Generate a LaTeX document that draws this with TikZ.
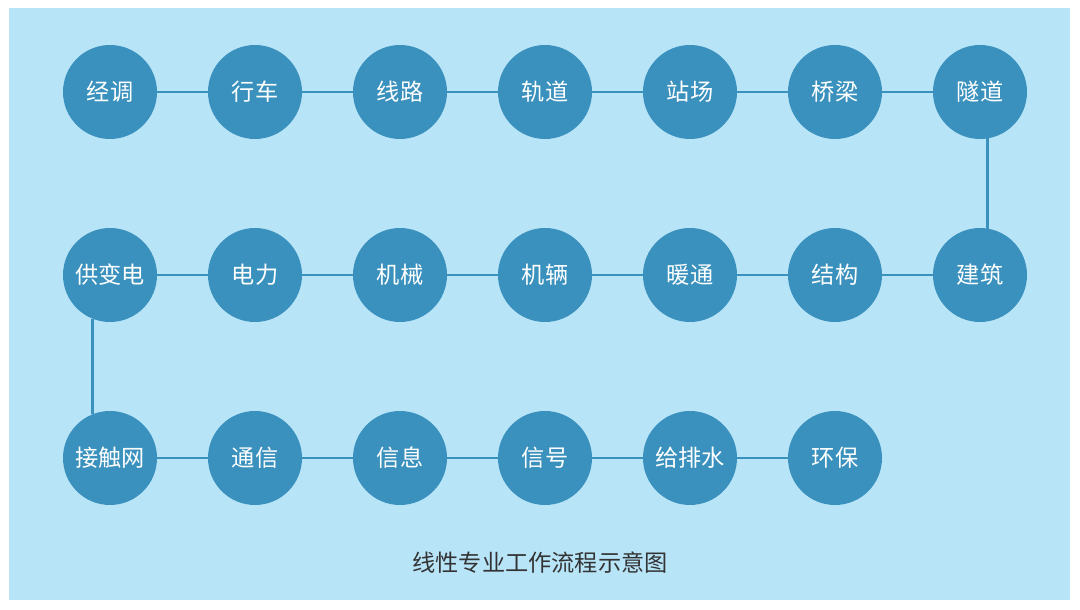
\documentclass[tikz,border=0pt]{standalone}
\usepackage{fontspec}
\setmainfont{Noto Sans CJK SC}
\usetikzlibrary{positioning}
\definecolor{bgblue}{RGB}{184,228,248}
\definecolor{nodeblue}{RGB}{58,145,189}
\definecolor{titlegray}{RGB}{51,51,51}
\tikzset{
  stage/.style={circle, fill=nodeblue, text=white, minimum size=2.35cm, inner sep=0pt, outer sep=0pt, font=\fontsize{16.5}{19}\selectfont},
  link/.style={draw=nodeblue, line width=1.8pt},
}
\begin{document}
\begin{tikzpicture}[node distance=1.275cm]
  \fill[white] (0,0) rectangle (27,15.25);
  \fill[bgblue] (0.225,0.25) rectangle (26.75,15.05);
  % first row
  \node[stage] (jd) at (2.75,12.95) {经调};
  \node[stage, right=of jd] (xc) {行车};
  \node[stage, right=of xc] (xl) {线路};
  \node[stage, right=of xl] (gd) {轨道};
  \node[stage, right=of gd] (zc) {站场};
  \node[stage, right=of zc] (ql) {桥梁};
  \node[stage, right=of ql] (sd) {隧道};
  % second row
  \node[stage] (gbd) at (2.75,8.375) {供变电};
  \node[stage, right=of gbd] (dl) {电力};
  \node[stage, right=of dl] (jx) {机械};
  \node[stage, right=of jx] (jl) {机辆};
  \node[stage, right=of jl] (nt) {暖通};
  \node[stage, right=of nt] (jg) {结构};
  \node[stage, right=of jg] (jz) {建筑};
  % third row
  \node[stage] (jcw) at (2.75,3.8) {接触网};
  \node[stage, right=of jcw] (tx) {通信};
  \node[stage, right=of tx] (xx) {信息};
  \node[stage, right=of xx] (xh) {信号};
  \node[stage, right=of xh] (gps) {给排水};
  \node[stage, right=of gps] (hb) {环保};
  % connectors
  \draw[link] (jd) -- (xc); \draw[link] (xc) -- (xl); \draw[link] (xl) -- (gd);
  \draw[link] (gd) -- (zc); \draw[link] (zc) -- (ql); \draw[link] (ql) -- (sd);
  \draw[link] (sd.-81) -- (jz.81);
  \draw[link] (gbd) -- (dl); \draw[link] (dl) -- (jx); \draw[link] (jx) -- (jl);
  \draw[link] (jl) -- (nt); \draw[link] (nt) -- (jg); \draw[link] (jg) -- (jz);
  \draw[link] (gbd.-112) -- (jcw.112);
  \draw[link] (jcw) -- (tx); \draw[link] (tx) -- (xx); \draw[link] (xx) -- (xh);
  \draw[link] (xh) -- (gps); \draw[link] (gps) -- (hb);
  \node[text=titlegray, font=\fontsize{16.5}{19}\selectfont] (title) at (13.5,1.175) {线性专业工作流程示意图};
\end{tikzpicture}
\end{document}
